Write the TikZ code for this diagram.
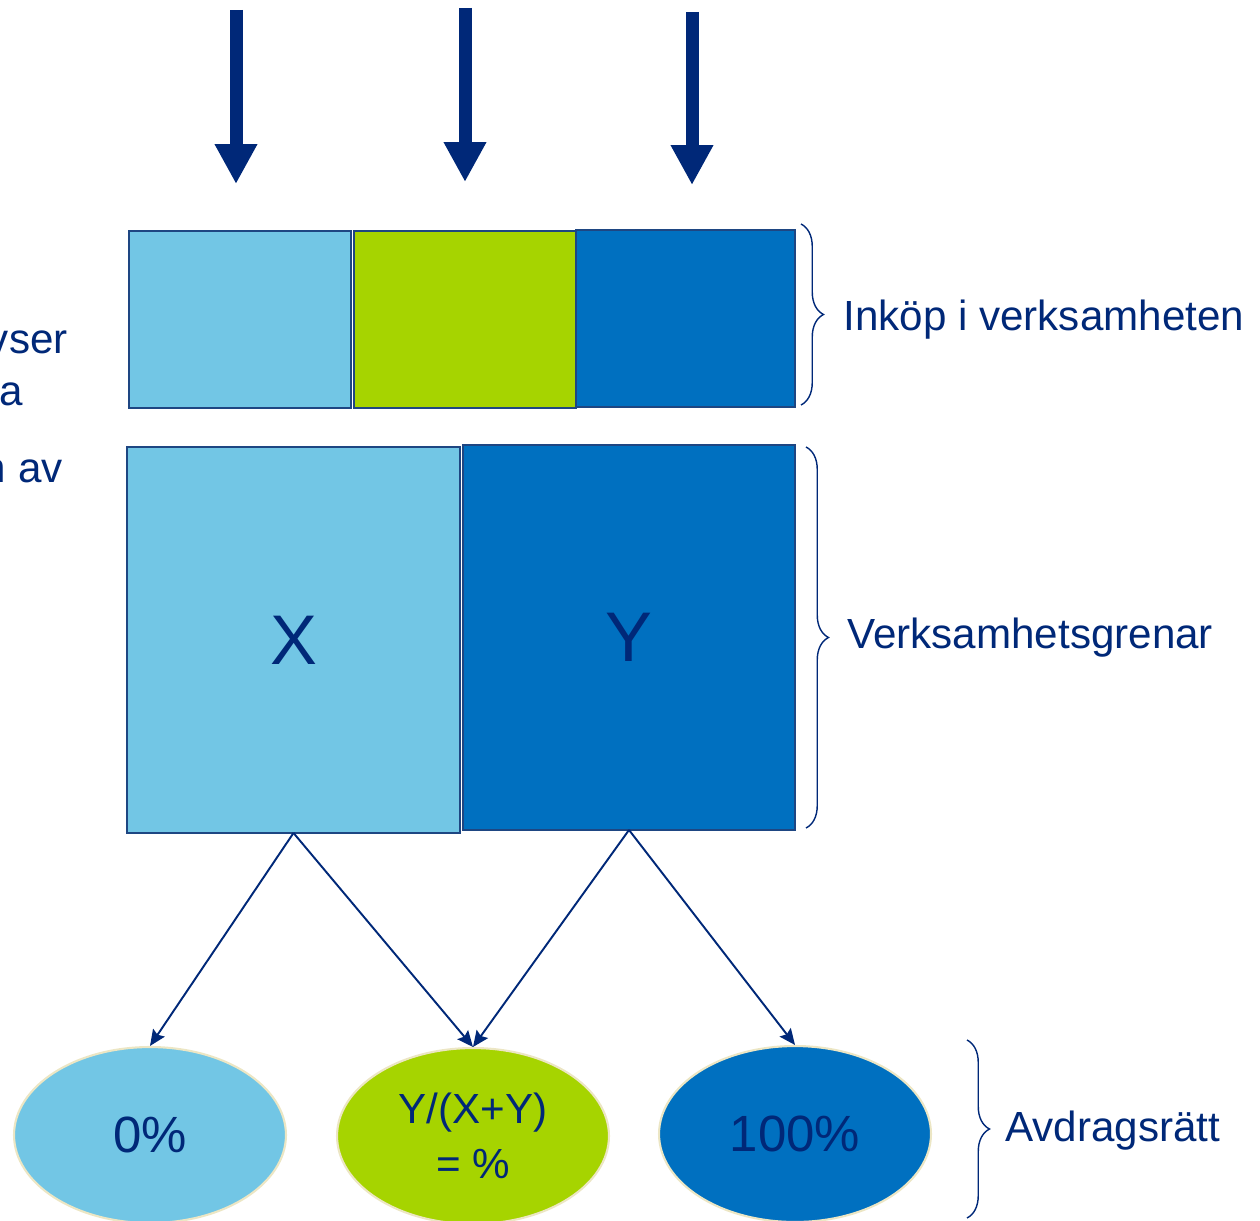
\documentclass[tikz,border=0pt]{standalone}
\usepackage{fontspec}
\setmainfont{Liberation Sans}
\usetikzlibrary{arrows.meta,shapes.geometric,decorations.pathreplacing}
\definecolor{lblue}{RGB}{114,198,229}
\definecolor{lgreen}{RGB}{166,212,0}
\definecolor{dblue}{RGB}{0,112,192}
\definecolor{navy}{RGB}{0,40,120}
\definecolor{beige}{RGB}{236,230,196}
\definecolor{boxline}{RGB}{30,70,130}
\begin{document}
\begin{tikzpicture}[x=0.02cm,y=-0.02cm,
  box/.style={draw=boxline, line width=0.7pt, inner sep=0, outer sep=0},
  oval/.style={ellipse, draw=beige, line width=1.2pt, inner sep=0, minimum width=5.44cm, minimum height=3.52cm, text=navy, align=center, font=\fontsize{29}{34}\selectfont},
  lbl/.style={inner sep=0, text=navy, font=\fontsize{24}{29}\selectfont},
  bigarrow/.style={navy, line width=0.26cm, -{Triangle[width=0.8cm,length=0.8cm]}},
  conn/.style={navy, line width=1.1pt, -{Stealth[width=0.28cm,length=0.32cm,inset=0.05cm]}},
  brc/.style={navy, line width=0.8pt, decorate, decoration={brace, amplitude=0.45cm}}
]
\path[use as bounding box] (0,0) rectangle (1260,1220);

% top arrows
\coordinate (a1s) at (236,10);  \coordinate (a1e) at (236,184);
\coordinate (a2s) at (465,8);   \coordinate (a2e) at (465,182);
\coordinate (a3s) at (692,12);  \coordinate (a3e) at (692,185);
\draw[bigarrow] (a1s) -- (a1e);
\draw[bigarrow] (a2s) -- (a2e);
\draw[bigarrow] (a3s) -- (a3e);

% top row boxes
\node[box, fill=lblue, minimum width=4.44cm, minimum height=3.54cm] (b1) at (240,319.5) {};
\node[box, fill=dblue, minimum width=4.38cm, minimum height=3.54cm] (b3) at (685.5,318.5) {};
\node[box, fill=lgreen, minimum width=4.44cm, minimum height=3.54cm] (b2) at (465,319.5) {};

% second row
\node[box, fill=lblue, minimum width=6.66cm, minimum height=7.72cm, text=navy, font=\fontsize{40}{48}\selectfont] (X) at (293.5,640) {X};
\node[box, fill=dblue, minimum width=6.64cm, minimum height=7.70cm, text=navy, font=\fontsize{40}{48}\selectfont] (Y) at (629,637.5) {Y};

% ellipses
\node[oval, fill=lblue] (e1) at (150,1135) {\raisebox{-3pt}{0\%}};
\node[oval, fill=lgreen, font=\fontsize{24}{31}\selectfont] (e2) at (473,1136) {Y/(X+Y)\\= \%};
\node[oval, fill=dblue] (e3) at (795,1134) {\raisebox{-3pt}{100\%}};

% connectors
\draw[conn] (X.south) -- (e1.north);
\draw[conn] (X.south) -- (e2.north);
\draw[conn] (Y.south) -- (e2.north);
\draw[conn] (Y.south) -- (e3.north);

% braces
\coordinate (br1t) at (801,224); \coordinate (br1b) at (801,405);
\coordinate (br2t) at (806,447); \coordinate (br2b) at (806,828);
\coordinate (br3t) at (967,1040); \coordinate (br3b) at (967,1218);
\draw[brc] (br1t) -- (br1b);
\draw[brc] (br2t) -- (br2b);
\draw[brc] (br3t) -- (br3b);

% labels
\node[lbl, anchor=base west] (l1) at (843,330) {Inköp i verksamheten};
\node[lbl, anchor=base west] (l2) at (847,648) {Verksamhetsgrenar};
\node[lbl, anchor=base west] (l3) at (1005,1141) {Avdragsrätt};

% text cut off at the left edge, as in the reference
\node[lbl, anchor=base east] (f1) at (68,353) {vser};
\node[lbl, anchor=base east] (f2) at (23,405) {a};
\node[lbl, anchor=base east] (f3) at (63,482) {n av};
\end{tikzpicture}
\end{document}
